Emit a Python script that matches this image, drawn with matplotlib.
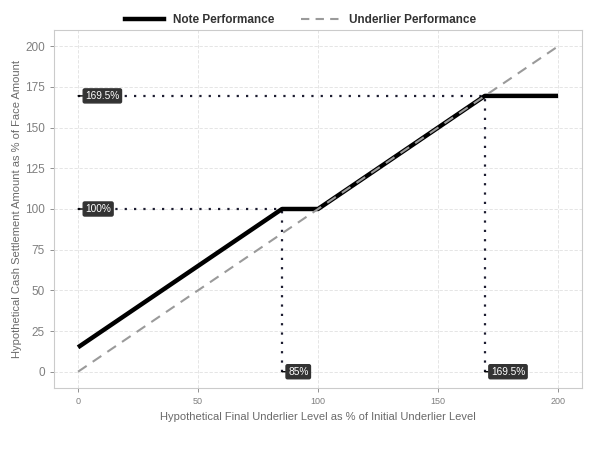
import matplotlib.pyplot as plt
from matplotlib.lines import Line2D

plt.rcParams["font.family"] = ["Liberation Sans", "DejaVu Sans"]

# payoff data
note_x = [0, 85, 100, 169.5, 200]
note_y = [15, 100, 100, 169.5, 169.5]
under_x = [0, 200]
under_y = [0, 200]

# annotated levels
barrier = 85
floor_level = 100
cap_level = 169.5
ref_labels_y = [(cap_level, "169.5%"), (floor_level, "100%")]
ref_labels_x = [(barrier, "85%"), (cap_level, "169.5%")]

xticks = [0, 50, 100, 150, 200]
yticks = [0, 25, 50, 75, 100, 125, 150, 175, 200]

fig = plt.figure(figsize=(6.01, 4.51), dpi=100)
ax = fig.add_axes([0.0899, 0.1397, 0.8786, 0.7938])

dot_col = "#1c1c30"
dots = (0, (1, 3.2))
# dotted guide lines
ax.plot([0, cap_level], [cap_level, cap_level], ls=dots, lw=1.6, color=dot_col, zorder=2)
ax.plot([0, barrier], [floor_level, floor_level], ls=dots, lw=1.6, color=dot_col, zorder=2)
ax.plot([barrier, barrier], [0, floor_level], ls=dots, lw=1.6, color=dot_col, zorder=2)
ax.plot([cap_level, cap_level], [0, cap_level], ls=dots, lw=1.6, color=dot_col, zorder=2)

ax.plot(note_x, note_y, color="black", lw=3.2, solid_capstyle="butt", zorder=3)
ax.plot(under_x, under_y, color="#9a9a9a", lw=1.5, ls=(0, (5, 3.5)), zorder=4)

box = dict(boxstyle="round,pad=0.2,rounding_size=0.15", fc="#333333", ec="#333333")
for yv, txt in ref_labels_y:
    ax.annotate(txt, xy=(0, yv), xytext=(3, yv), fontsize=7.3, color="white",
                va="center", ha="left", bbox=box,
                arrowprops=dict(arrowstyle="-", color="black", lw=1, shrinkA=0, shrinkB=0),
                zorder=5)
for xv, txt in ref_labels_x:
    ax.annotate(txt, xy=(xv, 0), xytext=(xv + 2.5, 0), fontsize=7.3, color="white",
                va="center", ha="left", bbox=box,
                arrowprops=dict(arrowstyle="-", color="black", lw=1, shrinkA=0, shrinkB=0),
                zorder=5)

ax.set_xlim(-10, 210)
ax.set_ylim(-10, 210)
ax.set_xticks(xticks)
ax.set_yticks(yticks)
ax.tick_params(axis="x", labelsize=6.5, colors="#7f7f7f", length=3, width=0.6)
ax.tick_params(axis="y", labelsize=8.5, colors="#7f7f7f", length=3, width=0.6)
ax.grid(True, color="#e0e0e0", ls=(0, (4, 2)), lw=0.6)
ax.set_axisbelow(True)
for s in ax.spines.values():
    s.set_color("#cbcbcb")
    s.set_linewidth(0.8)

ax.set_xlabel("Hypothetical Final Underlier Level as % of Initial Underlier Level",
              fontsize=8, color="#6a6a6a", labelpad=4)
ax.set_ylabel("Hypothetical Cash Settlement Amount as % of Face Amount",
              fontsize=8, color="#6a6a6a", labelpad=2)

handles = [Line2D([], [], color="black", lw=3.2),
           Line2D([], [], color="#9a9a9a", lw=1.5, ls=(0, (4, 3)))]
fig.legend(handles, ["Note Performance", "Underlier Performance"], loc="center",
           bbox_to_anchor=(0.5, 0.955), ncol=2, frameon=False, handlelength=3.3,
           columnspacing=2.2, handletextpad=0.8,
           prop={"weight": "bold", "size": 8.5}, labelcolor="#333333")

fig.savefig("out.png", dpi=100)
